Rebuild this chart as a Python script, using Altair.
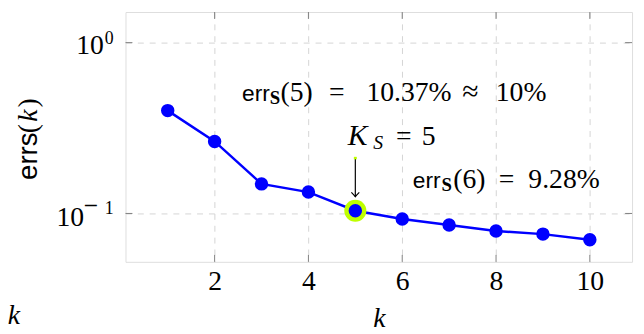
import altair as alt
import pandas as pd

# ---- data ----
k_values = [1, 2, 3, 4, 5, 6, 7, 8, 9, 10]
err_values = [0.40, 0.264, 0.149, 0.1334, 0.1037, 0.0928, 0.0855, 0.079, 0.0757, 0.0701]
x_ticks = [2, 4, 6, 8, 10]
y_ticks = [1.0, 0.1]
y_exp_sign = ["", "−"]
y_exp_digit = ["0", "1"]
k_sel = [5]
err_sel = [0.1037]
arrow_k = [5, 5]
arrow_err = [0.211, 0.1253]

W, H = 513, 253
SERIF = "'Liberation Serif', 'DejaVu Serif', serif"
SANS = "'Liberation Sans', 'DejaVu Sans', sans-serif"
BLUE = "#0000ff"
LIME = "#bfff00"
GRID = "#d4d4d4"
TICK = "#808080"

xs = alt.Scale(domain=[0.1, 10.9], nice=False, zero=False)
ys = alt.Scale(type="log", domain=[0.0521, 1.5107], nice=False)

x_axis = alt.Axis(values=x_ticks, grid=True, gridColor=GRID, gridDash=[6, 6], gridWidth=1,
                  ticks=False, domain=False, labelFont=SERIF, labelFontSize=28,
                  labelColor="black", labelPadding=6, title=None, labelFlush=False)
y_axis = alt.Axis(values=y_ticks, grid=True, gridColor=GRID, gridDash=[6, 6], gridWidth=1,
                  ticks=False, domain=False, labels=False, title=None)


def X():
    return alt.X("k:Q", scale=xs, axis=x_axis)


def Y():
    return alt.Y("err:Q", scale=ys, axis=y_axis)


df = pd.DataFrame({"k": k_values, "err": err_values})

line = alt.Chart(df).mark_line(color=BLUE, strokeWidth=2.5).encode(x=X(), y=Y())

sel_df = pd.DataFrame({"k": k_sel, "err": err_sel})
ring = alt.Chart(sel_df).mark_point(filled=True, color=LIME, size=500, opacity=1,
                                    shape="circle").encode(x=X(), y=Y())
points = alt.Chart(df).mark_point(filled=True, color=BLUE, size=185, opacity=1,
                                  shape="circle").encode(x=X(), y=Y())

# inward ticks on all four sides
xt = pd.DataFrame({"k": x_ticks})
yt = pd.DataFrame({"err": y_ticks, "sign": y_exp_sign, "digit": y_exp_digit})
tick_b = alt.Chart(xt).mark_rule(color=TICK, strokeWidth=1).encode(
    x=X(), y=alt.value(H), y2=alt.value(H - 7))
tick_t = alt.Chart(xt).mark_rule(color=TICK, strokeWidth=1).encode(
    x=X(), y=alt.value(0), y2=alt.value(7))
tick_l = alt.Chart(yt).mark_rule(color=TICK, strokeWidth=1).encode(
    y=Y(), x=alt.value(0), x2=alt.value(7))
tick_r = alt.Chart(yt).mark_rule(color=TICK, strokeWidth=1).encode(
    y=Y(), x=alt.value(W), x2=alt.value(W - 7))

# y tick labels 10^e
exp_digit = alt.Chart(yt).mark_text(font=SERIF, fontSize=18, align="right",
                                    baseline="alphabetic", dy=1, color="black").encode(
    y=Y(), x=alt.value(-12), text="digit:N")
exp_sign = alt.Chart(yt).transform_filter("datum.sign != ''").mark_text(
    font=SERIF, fontSize=26, align="center", baseline="alphabetic", dy=1,
    color="black").encode(y=Y(), x=alt.value(-35), text="sign:N")
base_pos = alt.Chart(yt).transform_filter("datum.sign == ''").mark_text(
    font=SERIF, fontSize=28, align="right", baseline="alphabetic", dy=12, color="black",
    text="10").encode(y=Y(), x=alt.value(-22))
base_neg = alt.Chart(yt).transform_filter("datum.sign != ''").mark_text(
    font=SERIF, fontSize=28, align="right", baseline="alphabetic", dy=13, color="black",
    text="10").encode(y=Y(), x=alt.value(-42))

# arrow
arr_df = pd.DataFrame({"k": arrow_k, "err": arrow_err})
arrow_line = alt.Chart(arr_df).mark_line(color="black", strokeWidth=1.2).encode(x=X(), y=Y())
arrow_head = alt.Chart(arr_df.iloc[[1]]).mark_point(
    shape="M -1 -1.1 Q -0.3 -0.4 0 0 Q 0.3 -0.4 1 -1.1", filled=False, color="black",
    strokeWidth=1.2, size=64, opacity=1).encode(x=X(), y=Y())
arrow_tail = alt.Chart(arr_df.iloc[[0]]).mark_point(
    shape="M -1 0 L 1 0", filled=False, color=LIME, strokeWidth=2.5, size=9,
    opacity=1).encode(x=X(), y=Y())


def txt_data(text, k, err, dx=0, dy=0, font=SERIF, size=28, style="normal", weight="normal"):
    d = pd.DataFrame({"k": [k], "err": [err]})
    return alt.Chart(d).mark_text(font=font, fontSize=size, fontStyle=style, fontWeight=weight,
                                  align="left", baseline="alphabetic", dx=dx, dy=dy,
                                  color="black", text=text).encode(x=X(), y=Y())


def txt_px(text, px, py, font=SERIF, size=28, style="normal", angle=0, align="center"):
    d = pd.DataFrame({"t": [text]})
    return alt.Chart(d).mark_text(font=font, fontSize=size, fontStyle=style, angle=angle,
                                  align=align, baseline="alphabetic", color="black").encode(
        x=alt.value(px), y=alt.value(py), text="t:N")


A1 = (2.584, 0.456)
A2 = (4.837, 0.2505)
A3 = (6.226, 0.1413)
ann = [
    # errS(5) = 10.37% ≈ 10%
    txt_data("err", *A1, font=SANS, size=23),
    txt_data("S", *A1, dx=28, dy=3, size=19, weight="bold"),
    txt_data("(5)", *A1, dx=39),
    txt_data("=", *A1, dx=88),
    txt_data("10.37%", *A1, dx=126),
    txt_data("≈", *A1, dx=223, size=30),
    txt_data("10%", *A1, dx=257),
    # K_S = 5
    txt_data("K", *A2, size=30, style="italic"),
    txt_data("S", *A2, dx=26, dy=4, size=20, style="italic"),
    txt_data("=", *A2, dx=49),
    txt_data("5", *A2, dx=75),
    # errS(6) = 9.28%
    txt_data("err", *A3, font=SANS, size=23),
    txt_data("S", *A3, dx=29, dy=3, size=19, weight="bold"),
    txt_data("(6)", *A3, dx=41),
    txt_data("=", *A3, dx=87),
    txt_data("9.28%", *A3, dx=117),
]

titles = [
    txt_px("k", 257, 319, style="italic"),
    txt_px("k", -113, 316, style="italic"),
    txt_px("errs", -90, 146, font=SANS, size=28, angle=270),
    txt_px("(", -90, 118, size=28, angle=270),
    txt_px("k", -90, 105, size=28, style="italic", angle=270),
    txt_px(")", -90, 92, size=28, angle=270),
]

chart = alt.layer(
    line, tick_b, tick_t, tick_l, tick_r, ring, points, arrow_line, arrow_head, arrow_tail,
    exp_digit, exp_sign, base_pos, base_neg, *ann, *titles,
).properties(
    width=W, height=H,
    autosize=alt.AutoSizeParams(type="none"),
    padding={"left": 119, "top": 2, "right": 4, "bottom": 70},
).configure_view(stroke="black", strokeWidth=1.2).configure(background="white")

chart.save("out.html", embed_options={"renderer": "svg", "actions": False})
